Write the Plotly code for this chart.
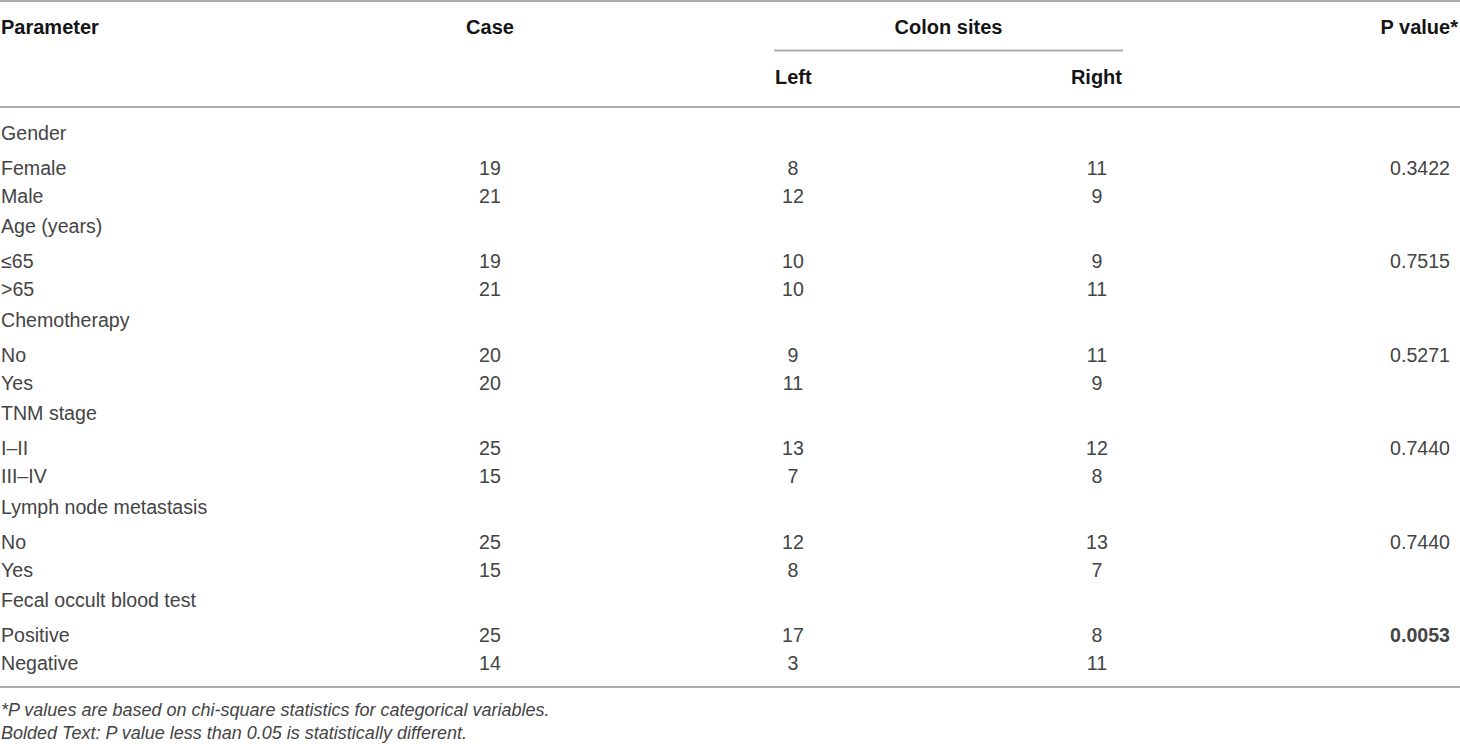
import plotly.graph_objects as go

# === Table contents ===
parameters = ["Gender", "Female", "Male",
              "Age (years)", "≤65", ">65",
              "Chemotherapy", "No", "Yes",
              "TNM stage", "I–II", "III–IV",
              "Lymph node metastasis", "No", "Yes",
              "Fecal occult blood test", "Positive", "Negative"]
case_n  = [None, 19, 21, None, 19, 21, None, 20, 20, None, 25, 15, None, 25, 15, None, 25, 14]
left_n  = [None, 8, 12, None, 10, 10, None, 9, 11, None, 13, 7, None, 12, 8, None, 17, 3]
right_n = [None, 11, 9, None, 9, 11, None, 11, 9, None, 12, 8, None, 13, 7, None, 8, 11]
p_vals  = [None, "0.3422", None, None, "0.7515", None, None, "0.5271", None,
           None, "0.7440", None, None, "0.7440", None, None, "0.0053", None]

headers = ["Parameter", "Case", "Colon sites", "P value*"]
sub_headers = ["Left", "Right"]
footnotes = ["*P values are based on chi-square statistics for categorical variables.",
             "Bolded Text: P value less than 0.05 is statistically different."]

# === Layout (pixels, page is 1460 x 744) ===
W, H = 1460, 744
FONT = "Liberation Sans, Arial, sans-serif"
BODY = 19.6
HEAD = 20
TXT = "#444444"
HEAD_COL = "#151515"
RULE = "#ababab"

X_PARAM, X_CASE, X_LEFT, X_RIGHT, X_P = 1, 490, 793, 1097, 1450
X_COLON = (775, 1122)
Y_HEAD, Y_SUB, Y_RULE_TOP, Y_RULE_COLON, Y_RULE_HEAD = 29, 79, 1, 50.5, 107

FIRST_ROW_Y = 135
HEAD_GAP, ITEM_GAP, GROUP_GAP = 35, 28, 30.5

# row positions from the row kind (group heading vs. item)
row_y = []
y = FIRST_ROW_Y
for i, c in enumerate(case_n):
    if i > 0:
        if case_n[i - 1] is None:
            y += HEAD_GAP
        elif c is None:
            y += GROUP_GAP
        else:
            y += ITEM_GAP
    row_y.append(y)
Y_RULE_BOTTOM = row_y[-1] + 21.5


def fmt(v):
    return "" if v is None else str(v)


def p_label(p):
    if p is None:
        return ""
    return f"<b>{p}</b>" if float(p) < 0.05 else p


def text_col(x, y, text, pos, color=TXT, size=BODY):
    return go.Scatter(
        x=[x] * len(text), y=y, text=text,
        mode="text", textposition=pos, cliponaxis=False,
        textfont=dict(family=FONT, size=size, color=color),
        hoverinfo="skip", showlegend=False)


fig = go.Figure()

# body
fig.add_trace(text_col(X_PARAM, row_y, parameters, "middle right"))
fig.add_trace(text_col(X_CASE, row_y, [fmt(v) for v in case_n], "middle center"))
fig.add_trace(text_col(X_LEFT, row_y, [fmt(v) for v in left_n], "middle center"))
fig.add_trace(text_col(X_RIGHT, row_y, [fmt(v) for v in right_n], "middle center"))
fig.add_trace(text_col(X_P, row_y, [p_label(p) for p in p_vals], "middle left"))

# header
bold = [f"<b>{h}</b>" for h in headers]
fig.add_trace(text_col(X_PARAM, [Y_HEAD], [bold[0]], "middle right", HEAD_COL, HEAD))
fig.add_trace(text_col(X_CASE, [Y_HEAD], [bold[1]], "middle center", HEAD_COL, HEAD))
fig.add_trace(text_col((X_COLON[0] + X_COLON[1]) / 2, [Y_HEAD], [bold[2]], "middle center", HEAD_COL, HEAD))
fig.add_trace(text_col(W - 2, [Y_HEAD], [bold[3]], "middle left", HEAD_COL, HEAD))
fig.add_trace(text_col(X_COLON[0], [Y_SUB], [f"<b>{sub_headers[0]}</b>"], "middle right", HEAD_COL, HEAD))
fig.add_trace(text_col(X_COLON[1], [Y_SUB], [f"<b>{sub_headers[1]}</b>"], "middle left", HEAD_COL, HEAD))

# footnotes
fig.add_trace(text_col(X_PARAM, [Y_RULE_BOTTOM + 24, Y_RULE_BOTTOM + 47.5],
                       [f"<i>{t}</i>" for t in footnotes], "middle right", TXT, 18))

# rules
for y0, x0, x1 in [(Y_RULE_TOP, 0, W), (Y_RULE_HEAD, 0, W), (Y_RULE_BOTTOM, 0, W),
                   (Y_RULE_COLON, X_COLON[0] - 1, X_COLON[1] + 1)]:
    fig.add_shape(type="line", x0=x0, x1=x1, y0=y0, y1=y0, xref="x", yref="y",
                  line=dict(color=RULE, width=2))

fig.update_xaxes(range=[0, W], visible=False, fixedrange=True)
fig.update_yaxes(range=[H, 0], visible=False, fixedrange=True)
fig.update_layout(width=W, height=H, margin=dict(l=0, r=0, t=0, b=0),
                  paper_bgcolor="white", plot_bgcolor="white")

# drop the browser's default body margin so the figure sits at the page corner
fig.write_html("out.html", config={"displayModeBar": False},
               post_script="document.body.style.margin='0';document.body.style.overflow='hidden';")
